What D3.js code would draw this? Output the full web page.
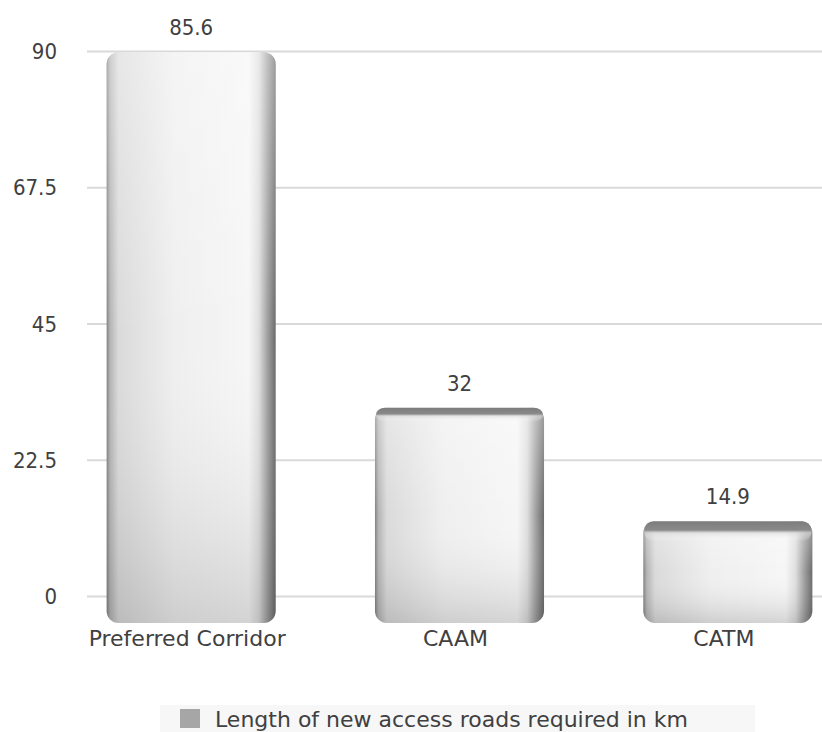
<!DOCTYPE html>
<html>
<head>
<meta charset="utf-8">
<script src="https://cdnjs.cloudflare.com/ajax/libs/d3/7.8.5/d3.min.js"></script>
<style>
  body { margin: 0; background: #fff; }
  text { font-family: "DejaVu Sans", sans-serif; fill: #404040; }
  .num { font-family: "DejaVu Sans Condensed", "DejaVu Sans", sans-serif; }
</style>
</head>
<body>
<div id="chart"></div>
<script>
const categories = ["Preferred Corridor", "CAAM", "CATM"];
const values = [85.6, 32, 14.9];
const tickValues = [0, 22.5, 45, 67.5, 90];
const seriesName = "Length of new access roads required in km";

const width = 822, height = 732;

const svg = d3.select("#chart").append("svg")
  .attr("width", width)
  .attr("height", height);

// axis scale (gridlines) and the "3d" scale the bars are drawn with
const y = d3.scaleLinear().domain([0, 90]).range([596, 51]);
const yBar = d3.scaleLinear().domain([0, 90]).range([620, 23]);
const x = d3.scaleBand().domain(categories).range([57, 862]).paddingInner(0.37).paddingOuter(0.185);

const defs = svg.append("defs");
const gh = defs.append("linearGradient").attr("id", "barH").attr("x1", 0).attr("x2", 1).attr("y1", 0).attr("y2", 0);
[[0, "#808080"], [0.02, "#b4b4b4"], [0.07, "#dadada"], [0.4, "#efefef"], [0.84, "#f6f6f6"], [0.9, "#dedede"], [0.95, "#a2a2a2"], [1, "#6a6a6a"]]
  .forEach(s => gh.append("stop").attr("offset", s[0]).attr("stop-color", s[1]));
const gv = defs.append("linearGradient").attr("id", "barV").attr("x1", 0).attr("x2", 0).attr("y1", 0).attr("y2", 1);
[[0, "#ffffff", 0.35], [0.5, "#ffffff", 0], [1, "#000000", 0.14]]
  .forEach(s => gv.append("stop").attr("offset", s[0]).attr("stop-color", s[1]).attr("stop-opacity", s[2]));
const gt = defs.append("linearGradient").attr("id", "barTop").attr("x1", 0).attr("x2", 0).attr("y1", 0).attr("y2", 1);
[[0, "#7c7c7c", 1], [0.45, "#8a8a8a", 1], [0.6, "#d8d8d8", 0.6], [1, "#ffffff", 0]]
  .forEach(s => gt.append("stop").attr("offset", s[0]).attr("stop-color", s[1]).attr("stop-opacity", s[2]));

// gridlines + y labels
const yAxis = d3.axisLeft(y).tickValues(tickValues).tickSize(-(width - 87)).tickFormat(d3.format("~g"));
const ga = svg.append("g").attr("transform", "translate(87,0)").call(yAxis);
ga.select(".domain").remove();
ga.selectAll(".tick line").attr("stroke", "#d9d9d9").attr("stroke-width", 2);
ga.selectAll(".tick text").attr("class", "num").attr("x", -30).attr("dy", "0.35em")
  .style("font-size", "22px").attr("fill", "#404040");

const data = categories.map((c, i) => ({ cat: c, v: values[i], i: i }));

const bars = svg.append("g").selectAll("g").data(data).join("g");
bars.append("rect")
  .attr("x", d => x(d.cat))
  .attr("y", d => yBar(d.v))
  .attr("width", x.bandwidth())
  .attr("height", d => yBar(0) - yBar(d.v) + 3)
  .attr("rx", 12)
  .attr("fill", "url(#barH)");
bars.append("rect")
  .attr("x", d => x(d.cat))
  .attr("y", d => yBar(d.v))
  .attr("width", x.bandwidth())
  .attr("height", d => yBar(0) - yBar(d.v) + 3)
  .attr("rx", 12)
  .attr("fill", "url(#barV)");
bars.filter(d => d.i > 0).append("rect")
  .attr("x", d => x(d.cat) + 1)
  .attr("y", d => yBar(d.v))
  .attr("width", x.bandwidth() - 2)
  .attr("height", d => d.i === 2 ? 20 : 14)
  .attr("rx", 9)
  .attr("fill", "url(#barTop)");

// value labels
bars.append("text")
  .attr("class", "num")
  .attr("x", d => x(d.cat) + x.bandwidth() / 2)
  .attr("y", d => yBar(d.v) - 17)
  .attr("text-anchor", "middle")
  .style("font-size", "22px")
  .text(d => d.v);

// category labels
svg.append("g").selectAll("text").data(categories).join("text")
  .attr("x", d => x(d) + x.bandwidth() / 2 - 4)
  .attr("y", 646)
  .attr("text-anchor", "middle")
  .style("font-size", "22px")
  .text(d => d);

// legend
const lg = svg.append("g");
lg.append("rect").attr("x", 160).attr("y", 705).attr("width", 595).attr("height", 28).attr("fill", "#f7f7f7");
lg.append("rect").attr("x", 180).attr("y", 709).attr("width", 20).attr("height", 19).attr("fill", "#a6a6a6");
lg.append("text").attr("x", 215).attr("y", 727).style("font-size", "22px").text(seriesName);
</script>
</body>
</html>
